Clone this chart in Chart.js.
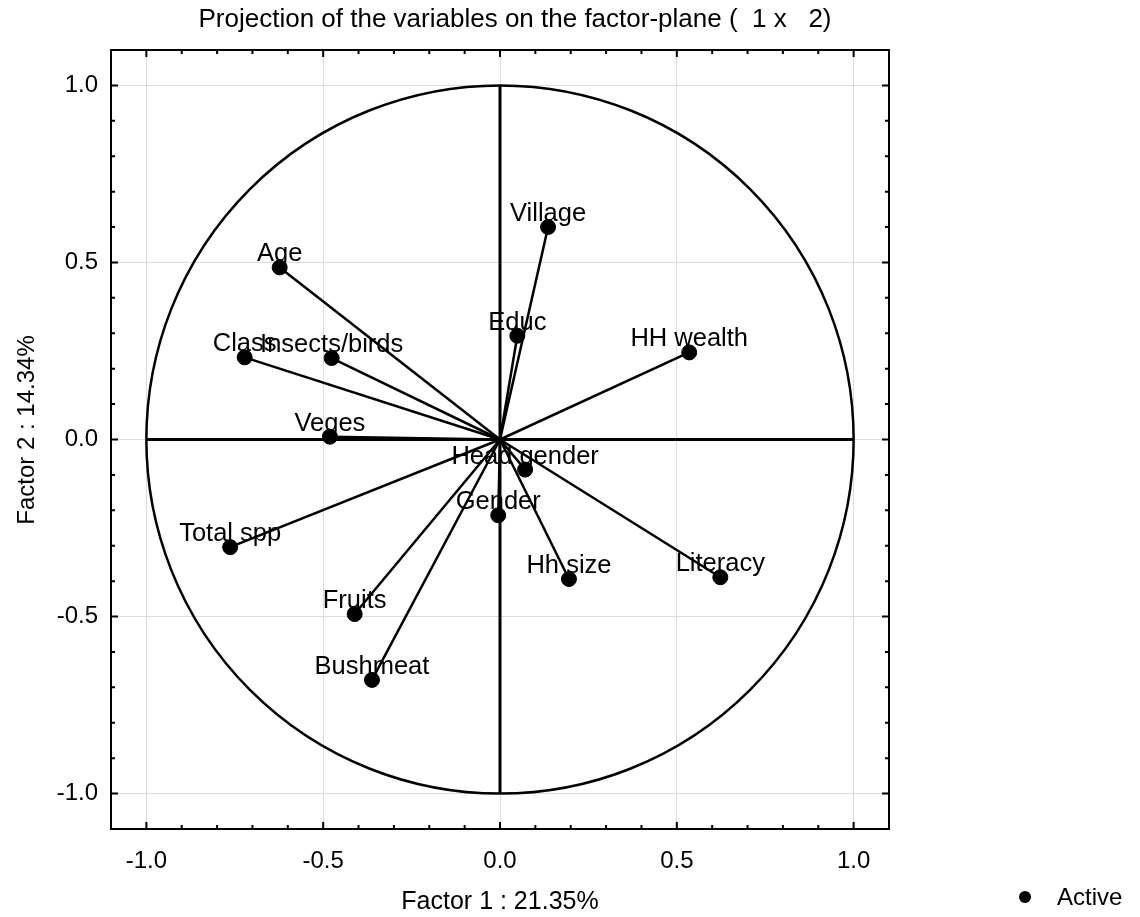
<!DOCTYPE html>
<html>
<head>
<meta charset="utf-8">
<title>Projection of the variables</title>
<script src="https://cdn.jsdelivr.net/npm/chart.js@4/dist/chart.umd.min.js"></script>
<style>
  html, body { margin: 0; padding: 0; background: #fff; }
  #wrap { position: relative; width: 1140px; height: 917px; }
</style>
</head>
<body>
<div id="wrap"><canvas id="plot"></canvas></div>
<script>
// variable coordinates on factors 1 and 2
const variables = ['Village', 'Age', 'Educ', 'HH wealth', 'Class', 'Insects/birds', 'Veges',
  'Head gender', 'Gender', 'Total spp', 'Hh size', 'Literacy', 'Fruits', 'Bushmeat'];
const factor1 = [0.136, -0.623, 0.049, 0.535, -0.722, -0.476, -0.481,
  0.071, -0.005, -0.763, 0.195, 0.623, -0.411, -0.362];
const factor2 = [0.600, 0.486, 0.293, 0.246, 0.232, 0.230, 0.008,
  -0.085, -0.214, -0.304, -0.394, -0.389, -0.493, -0.679];
const axisTicks = [-1.0, -0.5, 0.0, 0.5, 1.0];

const FONT = '"Liberation Sans", Arial, sans-serif';

const rays = variables.map((v, i) => ({
  label: v,
  data: [{ x: 0, y: 0 }, { x: factor1[i], y: factor2[i] }],
  showLine: true,
  borderColor: '#000',
  borderWidth: 2.5,
  pointRadius: 0,
  order: 2
}));

const active = {
  label: 'Active',
  data: variables.map((v, i) => ({ x: factor1[i], y: factor2[i] })),
  backgroundColor: '#000',
  borderColor: '#000',
  pointRadius: 7.5,
  pointHoverRadius: 7.5,
  order: 1
};

// unit circle, axis cross, frame and inward tick marks
const decor = {
  id: 'decor',
  beforeDatasetsDraw(chart) {
    const { ctx, scales: { x, y } } = chart;
    const cx = x.getPixelForValue(0), cy = y.getPixelForValue(0);
    const rx = x.getPixelForValue(1) - cx, ry = cy - y.getPixelForValue(1);
    ctx.save();
    ctx.strokeStyle = '#000';
    ctx.lineWidth = 2.5;
    ctx.beginPath();
    ctx.ellipse(cx, cy, rx, ry, 0, 0, Math.PI * 2);
    ctx.stroke();
    ctx.lineWidth = 3;
    ctx.beginPath();
    ctx.moveTo(x.getPixelForValue(-1), cy);
    ctx.lineTo(x.getPixelForValue(1), cy);
    ctx.moveTo(cx, y.getPixelForValue(-1));
    ctx.lineTo(cx, y.getPixelForValue(1));
    ctx.stroke();
    ctx.restore();
  },
  afterDraw(chart) {
    const { ctx, chartArea: a, scales: { x, y } } = chart;
    ctx.save();
    ctx.strokeStyle = '#000';
    ctx.lineWidth = 2;
    ctx.strokeRect(a.left, a.top, a.right - a.left, a.bottom - a.top);
    ctx.beginPath();
    for (let k = -10; k <= 10; k++) {
      const major = k % 5 === 0;
      const len = major ? 7 : 4;
      const px = x.getPixelForValue(k / 10), py = y.getPixelForValue(k / 10);
      ctx.moveTo(px, a.bottom); ctx.lineTo(px, a.bottom - len);
      ctx.moveTo(px, a.top); ctx.lineTo(px, a.top + len);
      ctx.moveTo(a.left, py); ctx.lineTo(a.left + len, py);
      ctx.moveTo(a.right, py); ctx.lineTo(a.right - len, py);
    }
    ctx.stroke();

    // titles
    ctx.fillStyle = '#000';
    ctx.textAlign = 'center';
    ctx.textBaseline = 'alphabetic';
    ctx.font = '26px ' + FONT;
    ctx.fillText('Projection of the variables on the factor-plane (  1 x   2)', 515, 27);
    ctx.font = '25px ' + FONT;
    ctx.fillText('Factor 1 : 21.35%', 500, 909);
    ctx.font = '24px ' + FONT;
    ctx.save();
    ctx.translate(34, 430);
    ctx.rotate(-Math.PI / 2);
    ctx.fillText('Factor 2 : 14.34%', 0, 0);
    ctx.restore();

    // legend
    ctx.beginPath();
    ctx.arc(1025, 897, 6, 0, Math.PI * 2);
    ctx.fill();
    ctx.textAlign = 'left';
    ctx.fillText('Active', 1057, 905);
    ctx.restore();
  },
  afterDatasetsDraw(chart) {
    const { ctx, scales: { x, y } } = chart;
    ctx.save();
    ctx.fillStyle = '#000';
    ctx.font = '25.5px ' + FONT;
    ctx.textAlign = 'center';
    ctx.textBaseline = 'alphabetic';
    variables.forEach((v, i) => {
      ctx.fillText(v, x.getPixelForValue(factor1[i]), y.getPixelForValue(factor2[i]) - 6);
    });
    ctx.restore();
  }
};

const tickOpts = {
  color: '#000',
  font: { family: FONT, size: 24 },
  includeBounds: false,
  stepSize: 0.5,
  callback: v => v.toFixed(1)
};

new Chart(document.getElementById('plot'), {
  type: 'scatter',
  data: { datasets: [...rays, active] },
  options: {
    responsive: true,
    maintainAspectRatio: false,
    animation: false,
    events: [],
    layout: { padding: { top: 50, right: 251, left: 0, bottom: 0 } },
    plugins: { legend: { display: false }, tooltip: { enabled: false } },
    scales: {
      x: {
        min: -1.1, max: 1.1,
        border: { display: false },
        grid: { color: '#dcdcdc', lineWidth: 1, drawTicks: false },
        ticks: { ...tickOpts, padding: 18 },
        afterBuildTicks: s => { s.ticks = axisTicks.map(value => ({ value })); },
        afterFit: s => { s.height = 88; }
      },
      y: {
        min: -1.1, max: 1.1,
        border: { display: false },
        grid: { color: '#dcdcdc', lineWidth: 1, drawTicks: false },
        ticks: { ...tickOpts, padding: 13 },
        afterBuildTicks: s => { s.ticks = axisTicks.map(value => ({ value })); },
        afterFit: s => { s.width = 111; }
      }
    }
  },
  plugins: [decor]
});
</script>
</body>
</html>
